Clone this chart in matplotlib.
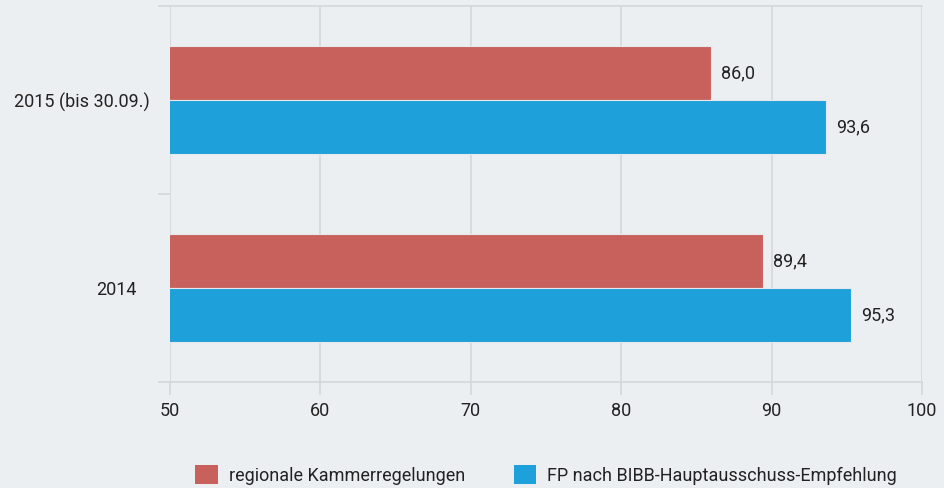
import matplotlib
matplotlib.use("Agg")
import matplotlib.pyplot as plt
import matplotlib.transforms as mtransforms
from matplotlib.patches import Patch

categories = ["2014", "2015 (bis 30.09.)"]
series_names = ["regionale Kammerregelungen", "FP nach BIBB-Hauptausschuss-Empfehlung"]
regional = [89.4, 86.0]
bibb = [95.3, 93.6]
xticks = [50, 60, 70, 80, 90, 100]

RED = "#C8605C"
BLUE = "#1EA0DA"
BG = "#ECEFF2"
GRID = "#D2D5D9"
TXT = "#222222"

plt.rcParams['font.family'] = ['Roboto', 'DejaVu Sans']

fig = plt.figure(figsize=(9.44, 4.88), dpi=100, facecolor=BG)
ax = fig.add_axes([170/944, 1-382/488, (922-170)/944, (382-6)/488])
ax.set_facecolor(BG)

h = 0.287
pos = list(range(len(categories)))
ax.barh([p + h/2 for p in pos], regional, height=h, left=0, color=RED,
        edgecolor="#E6E8EB", linewidth=0.8, zorder=3)
ax.barh([p - h/2 for p in pos], bibb, height=h, left=0, color=BLUE,
        edgecolor="#E6E8EB", linewidth=0.8, zorder=3)

ax.set_xlim(50, 100)
ax.set_ylim(-0.5, 1.5)

def fmt(v):
    return f"{v:.1f}".replace(".", ",")

off = mtransforms.offset_copy(ax.transData, fig=fig, x=10, y=0, units='dots')
for p, v in zip(pos, regional):
    ax.text(v, p + h/2, fmt(v), transform=off, ha='left', va='center', fontsize=13, color=TXT, zorder=4)
for p, v in zip(pos, bibb):
    ax.text(v, p - h/2, fmt(v), transform=off, ha='left', va='center', fontsize=13, color=TXT, zorder=4)

# grid
ax.set_xticks(xticks)
ax.set_xticklabels([str(t) for t in xticks], fontsize=13, color=TXT)
for t in xticks:
    ax.axvline(t, color=GRID, linewidth=1.1, zorder=1)
ax.tick_params(axis='x', length=9.4, width=1.1, color=GRID, pad=5)

# y ticks: boundaries as minor ticks, labels at centres
ax.set_yticks([-0.5, 0.5, 1.5], minor=True)
ax.set_yticks(pos)
ax.set_yticklabels(categories, fontsize=13, color=TXT)
ax.tick_params(axis='y', which='major', length=0, pad=14.4)
ax.tick_params(axis='y', which='minor', length=8.6, width=1.1, color=GRID)

labels = ax.get_yticklabels()
labels[0].set_transform(labels[0].get_transform() + mtransforms.ScaledTranslation(-13/100, 0, fig.dpi_scale_trans))

for s in ['left', 'right']:
    ax.spines[s].set_visible(False)
for s in ['top', 'bottom']:
    ax.spines[s].set_color(GRID)
    ax.spines[s].set_linewidth(1.1)

handles = [Patch(facecolor=RED, edgecolor='none'), Patch(facecolor=BLUE, edgecolor='none')]
fig.legend(handles, series_names, loc='center', bbox_to_anchor=(546/944, 1-475/488),
           ncol=2, frameon=False, fontsize=13, handlelength=1.25, handleheight=1.25,
           handletextpad=0.6, columnspacing=2.7, labelcolor=TXT)

fig.savefig("out.png", dpi=100, facecolor=BG)
